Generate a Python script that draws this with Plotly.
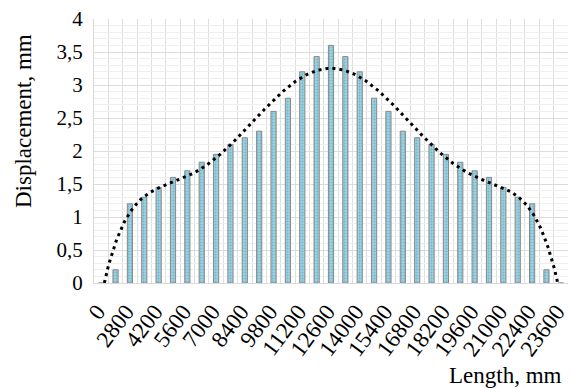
import numpy as np
import plotly.graph_objects as go

# Data
categories = ["0", "1400", "2800", "3500", "4200", "4900", "5600", "6300", "7000", "7700",
              "8400", "9100", "9800", "10500", "11200", "11900", "12600", "13300", "14000",
              "14700", "15400", "16100", "16800", "17500", "18200", "18900", "19600",
              "20300", "21000", "21700", "22400", "23000", "23600"]
displacement = [0, 0.2, 1.2, 1.3, 1.45, 1.6, 1.7, 1.83, 1.95, 2.1, 2.2, 2.3, 2.6, 2.8, 3.2,
                3.43, 3.6, 3.43, 3.2, 2.8, 2.6, 2.3, 2.2, 2.1, 1.95, 1.83, 1.7, 1.6, 1.45,
                1.3, 1.2, 0.2, 0]
y_ticks = [0, 0.5, 1, 1.5, 2, 2.5, 3, 3.5, 4]

idx = np.arange(len(categories))
# Polynomial trendline (order 6), as in the original spreadsheet chart
coef = np.polyfit(idx + 1, displacement, 6)
xs = np.linspace(0, len(categories) - 1, 400)
ys = np.polyval(coef, xs + 1)

FONT = "Liberation Serif"

fig = go.Figure()
fig.add_trace(go.Bar(
    x=idx, y=displacement, width=0.36,
    marker=dict(color="#7fbfd3", line=dict(color="#888888", width=1),
                pattern=dict(shape=".", size=3, solidity=0.35, fgcolor="#4f98b0", bgcolor="#9bd2e2")),
    showlegend=False, hoverinfo="skip"))
fig.add_trace(go.Scatter(
    x=xs, y=ys, mode="lines",
    line=dict(color="black", width=3, dash="3px,4px"),
    showlegend=False, hoverinfo="skip"))

tickvals = list(range(0, len(categories), 2))
fig.update_layout(
    width=570, height=388,
    margin=dict(l=94, r=2, t=19, b=105),
    paper_bgcolor="white", plot_bgcolor="white",
    separators=", ",
    font=dict(family=FONT, size=21, color="black"),
    xaxis=dict(
        range=[-0.5, len(categories) - 0.5],
        tickmode="array", tickvals=tickvals,
        ticktext=[categories[i] for i in tickvals],
        tickangle=-53, showgrid=False, zeroline=False,
        showline=True, linecolor="#d9d9d9", linewidth=1,
        ticks="", automargin=False, ticklabeloverflow="allow",
        ticklabelstandoff=5, ticklabelshift=-4,
        minor=dict(tickmode="linear", tick0=0.5, dtick=1, showgrid=True,
                   gridcolor="#dedede", gridwidth=1),
        tickfont=dict(family=FONT, size=23),
    ),
    yaxis=dict(
        range=[0, 4], tickmode="array", tickvals=y_ticks,
        showgrid=True, gridcolor="#dcdcdc", gridwidth=1,
        zeroline=False, showline=True, linecolor="#d9d9d9", linewidth=1,
        ticks="", ticklabelstandoff=6, automargin=False,
        minor=dict(tickmode="linear", tick0=0, dtick=0.1, showgrid=True,
                   gridcolor="#efefef", gridwidth=1),
        tickfont=dict(family=FONT, size=21),
    ),
    annotations=[
        dict(text="Displacement, mm", x=0, xref="paper", y=(283 - 121) / 264, yref="paper",
             xshift=-71, textangle=-90, showarrow=False, xanchor="center", yanchor="middle",
             font=dict(family=FONT, size=23)),
        dict(text="Length, mm", x=1, xref="paper", y=0, yref="paper",
             yshift=-92, xshift=-4, showarrow=False, xanchor="right", yanchor="middle",
             font=dict(family=FONT, size=23)),
    ],
)

fig.write_html("out.html", config={"displayModeBar": False},
               post_script="document.body.style.margin='0';document.body.style.overflow='hidden';")
